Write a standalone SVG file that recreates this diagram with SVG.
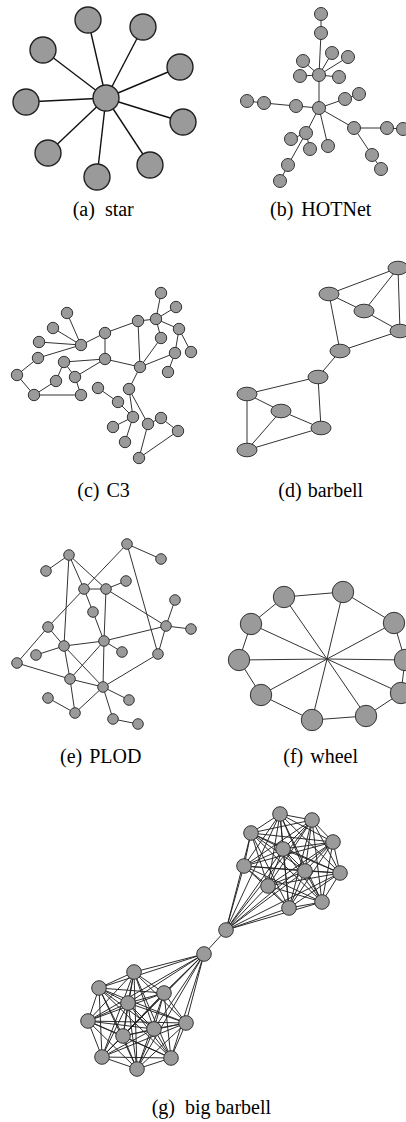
<svg xmlns="http://www.w3.org/2000/svg" width="406" height="1122" viewBox="0 0 406 1122">
<style>
.e{stroke:#333;stroke-width:1;fill:none}
.es{stroke:#111;stroke-width:1.4;fill:none}
.ek{stroke:#222;stroke-width:0.95;fill:none}
circle,ellipse{fill:#9a9a9a;stroke:#333;stroke-width:1}
.sn circle{stroke:#222;stroke-width:1.4}
text{font-family:"Liberation Serif","Times New Roman",serif;font-size:20px;fill:#000}
</style>
<rect width="406" height="1122" fill="#fff"/>

<!-- (a) star -->
<g id="star-edges" class="es">
<line x1="106" y1="98" x2="88" y2="20"/><line x1="106" y1="98" x2="143" y2="27"/><line x1="106" y1="98" x2="43" y2="50"/><line x1="106" y1="98" x2="180" y2="67"/><line x1="106" y1="98" x2="26" y2="102"/><line x1="106" y1="98" x2="183" y2="122"/><line x1="106" y1="98" x2="48" y2="153"/><line x1="106" y1="98" x2="97" y2="177"/><line x1="106" y1="98" x2="150" y2="165"/>
</g>
<g class="sn">
<g id="s0"><circle cx="106" cy="98" r="13"/></g>
<g id="s1"><circle cx="88" cy="20" r="13"/></g>
<g id="s2"><circle cx="143" cy="27" r="13"/></g>
<g id="s3"><circle cx="43" cy="50" r="13"/></g>
<g id="s4"><circle cx="180" cy="67" r="13"/></g>
<g id="s5"><circle cx="26" cy="102" r="13"/></g>
<g id="s6"><circle cx="183" cy="122" r="13"/></g>
<g id="s7"><circle cx="48" cy="153" r="13"/></g>
<g id="s8"><circle cx="97" cy="177" r="13"/></g>
<g id="s9"><circle cx="150" cy="165" r="13"/></g>
</g>
<text x="72.7" y="216">(a) <tspan dx="5">star</tspan></text>

<!-- (b) HOTNet -->
<g id="hot-edges" class="e">
<line x1="321" y1="14" x2="321" y2="33"/><line x1="321" y1="33" x2="319" y2="75"/><line x1="319" y1="75" x2="332" y2="53"/><line x1="319" y1="75" x2="348" y2="57"/><line x1="319" y1="75" x2="303" y2="61"/><line x1="319" y1="75" x2="300" y2="76"/><line x1="319" y1="75" x2="339" y2="77"/><line x1="319" y1="75" x2="319" y2="108"/><line x1="319" y1="108" x2="296" y2="106"/><line x1="296" y1="106" x2="264" y2="103"/><line x1="264" y1="103" x2="247" y2="101"/><line x1="319" y1="108" x2="345" y2="99"/><line x1="345" y1="99" x2="359" y2="94"/><line x1="319" y1="108" x2="354" y2="128"/><line x1="354" y1="128" x2="387" y2="128"/><line x1="387" y1="128" x2="403" y2="129"/><line x1="354" y1="128" x2="372" y2="155"/><line x1="372" y1="155" x2="381" y2="169"/><line x1="319" y1="108" x2="306" y2="133"/><line x1="306" y1="133" x2="291" y2="139"/><line x1="306" y1="133" x2="310" y2="149"/><line x1="306" y1="133" x2="288" y2="165"/><line x1="288" y1="165" x2="280" y2="181"/><line x1="319" y1="108" x2="328" y2="146"/>
</g>
<g id="hA"><circle cx="321" cy="14" r="6.5"/></g>
<g id="hB"><circle cx="321" cy="33" r="6.5"/></g>
<g id="hC"><circle cx="319" cy="75" r="6.5"/></g>
<g id="hD"><circle cx="332" cy="53" r="6.5"/></g>
<g id="hE"><circle cx="348" cy="57" r="6.5"/></g>
<g id="hF"><circle cx="303" cy="61" r="6.5"/></g>
<g id="hG"><circle cx="300" cy="76" r="6.5"/></g>
<g id="hH"><circle cx="339" cy="77" r="6.5"/></g>
<g id="hI"><circle cx="319" cy="108" r="6.5"/></g>
<g id="hJ"><circle cx="296" cy="106" r="6.5"/></g>
<g id="hK"><circle cx="264" cy="103" r="6.5"/></g>
<g id="hL"><circle cx="247" cy="101" r="6.5"/></g>
<g id="hM"><circle cx="345" cy="99" r="6.5"/></g>
<g id="hN"><circle cx="359" cy="94" r="6.5"/></g>
<g id="hO"><circle cx="354" cy="128" r="6.5"/></g>
<g id="hP"><circle cx="387" cy="128" r="6.5"/></g>
<g id="hQ"><circle cx="403" cy="129" r="6.5"/></g>
<g id="hR"><circle cx="372" cy="155" r="6.5"/></g>
<g id="hS"><circle cx="381" cy="169" r="6.5"/></g>
<g id="hT"><circle cx="306" cy="133" r="6.5"/></g>
<g id="hU"><circle cx="291" cy="139" r="6.5"/></g>
<g id="hV"><circle cx="310" cy="149" r="6.5"/></g>
<g id="hW"><circle cx="328" cy="146" r="6.5"/></g>
<g id="hX"><circle cx="288" cy="165" r="6.5"/></g>
<g id="hY"><circle cx="280" cy="181" r="6.5"/></g>
<text x="270" y="216">(b) <tspan dx="3">HOTNet</tspan></text>

<!-- (c) C3 -->
<g id="c3-edges" class="e">
<line x1="161" y1="293" x2="156" y2="319"/><line x1="176" y1="307" x2="156" y2="319"/><line x1="156" y1="319" x2="138" y2="321"/><line x1="156" y1="319" x2="179" y2="329"/><line x1="156" y1="319" x2="161" y2="338"/><line x1="138" y1="321" x2="105" y2="333"/><line x1="138" y1="321" x2="140" y2="367"/><line x1="179" y1="329" x2="175" y2="353"/><line x1="179" y1="329" x2="191" y2="352"/><line x1="161" y1="338" x2="140" y2="367"/><line x1="175" y1="353" x2="140" y2="367"/><line x1="175" y1="353" x2="168" y2="372"/><line x1="105" y1="333" x2="105" y2="359"/><line x1="105" y1="333" x2="81" y2="345"/><line x1="67" y1="313" x2="81" y2="345"/><line x1="53" y1="328" x2="81" y2="345"/><line x1="39" y1="342" x2="81" y2="345"/><line x1="38" y1="358" x2="81" y2="345"/><line x1="38" y1="358" x2="17" y2="375"/><line x1="17" y1="375" x2="34" y2="395"/><line x1="34" y1="395" x2="56" y2="381"/><line x1="56" y1="381" x2="64" y2="362"/><line x1="64" y1="362" x2="105" y2="359"/><line x1="64" y1="362" x2="75" y2="377"/><line x1="75" y1="377" x2="105" y2="359"/><line x1="75" y1="377" x2="81" y2="395"/><line x1="34" y1="395" x2="81" y2="395"/><line x1="105" y1="359" x2="140" y2="367"/><line x1="140" y1="367" x2="129" y2="389"/><line x1="98" y1="388" x2="118" y2="402"/><line x1="118" y1="402" x2="133" y2="417"/><line x1="129" y1="389" x2="133" y2="417"/><line x1="129" y1="389" x2="148" y2="424"/><line x1="133" y1="417" x2="113" y2="427"/><line x1="133" y1="417" x2="125" y2="442"/><line x1="148" y1="424" x2="139" y2="458"/><line x1="161" y1="418" x2="148" y2="424"/><line x1="161" y1="418" x2="178" y2="431"/><line x1="178" y1="431" x2="139" y2="458"/>
</g>
<g id="c1"><circle cx="161" cy="293" r="5.7"/></g>
<g id="c2"><circle cx="176" cy="307" r="5.7"/></g>
<g id="c3"><circle cx="156" cy="319" r="5.7"/></g>
<g id="c4"><circle cx="138" cy="321" r="5.7"/></g>
<g id="c5"><circle cx="179" cy="329" r="5.7"/></g>
<g id="c6"><circle cx="161" cy="338" r="5.7"/></g>
<g id="c7"><circle cx="67" cy="313" r="5.7"/></g>
<g id="c8"><circle cx="53" cy="328" r="5.7"/></g>
<g id="c9"><circle cx="105" cy="333" r="5.7"/></g>
<g id="c10"><circle cx="39" cy="342" r="5.7"/></g>
<g id="c11"><circle cx="81" cy="345" r="5.7"/></g>
<g id="c12"><circle cx="175" cy="353" r="5.7"/></g>
<g id="c13"><circle cx="191" cy="352" r="5.7"/></g>
<g id="c14"><circle cx="38" cy="358" r="5.7"/></g>
<g id="c15"><circle cx="64" cy="362" r="5.7"/></g>
<g id="c16"><circle cx="105" cy="359" r="5.7"/></g>
<g id="c17"><circle cx="140" cy="367" r="5.7"/></g>
<g id="c18"><circle cx="168" cy="372" r="5.7"/></g>
<g id="c19"><circle cx="17" cy="375" r="5.7"/></g>
<g id="c20"><circle cx="75" cy="377" r="5.7"/></g>
<g id="c21"><circle cx="56" cy="381" r="5.7"/></g>
<g id="c22"><circle cx="98" cy="388" r="5.7"/></g>
<g id="c23"><circle cx="129" cy="389" r="5.7"/></g>
<g id="c24"><circle cx="34" cy="395" r="5.7"/></g>
<g id="c25"><circle cx="81" cy="395" r="5.7"/></g>
<g id="c26"><circle cx="118" cy="402" r="5.7"/></g>
<g id="c27"><circle cx="133" cy="417" r="5.7"/></g>
<g id="c28"><circle cx="161" cy="418" r="5.7"/></g>
<g id="c29"><circle cx="148" cy="424" r="5.7"/></g>
<g id="c30"><circle cx="113" cy="427" r="5.7"/></g>
<g id="c31"><circle cx="178" cy="431" r="5.7"/></g>
<g id="c32"><circle cx="125" cy="442" r="5.7"/></g>
<g id="c33"><circle cx="139" cy="458" r="5.7"/></g>
<text x="77.3" y="497">(c) <tspan dx="2">C3</tspan></text>

<!-- (d) barbell -->
<g id="barbell-edges" class="e">
<line x1="398" y1="268" x2="329" y2="294"/><line x1="398" y1="268" x2="364" y2="311"/><line x1="398" y1="268" x2="400" y2="331"/><line x1="329" y1="294" x2="364" y2="311"/><line x1="364" y1="311" x2="400" y2="331"/><line x1="329" y1="294" x2="340" y2="351"/><line x1="400" y1="331" x2="340" y2="351"/><line x1="340" y1="351" x2="318" y2="377"/><line x1="318" y1="377" x2="247" y2="394"/><line x1="318" y1="377" x2="321" y2="428"/><line x1="247" y1="394" x2="281" y2="411"/><line x1="247" y1="394" x2="247" y2="450"/><line x1="281" y1="411" x2="321" y2="428"/><line x1="281" y1="411" x2="247" y2="450"/><line x1="321" y1="428" x2="247" y2="450"/>
</g>
<g id="ba"><ellipse cx="398" cy="268" rx="10" ry="6.8"/></g>
<g id="bb"><ellipse cx="329" cy="294" rx="10" ry="6.8"/></g>
<g id="bc"><ellipse cx="364" cy="311" rx="10" ry="6.8"/></g>
<g id="bd"><ellipse cx="400" cy="331" rx="10" ry="6.8"/></g>
<g id="be"><ellipse cx="340" cy="351" rx="10" ry="6.8"/></g>
<g id="bf"><ellipse cx="318" cy="377" rx="10" ry="6.8"/></g>
<g id="bg"><ellipse cx="247" cy="394" rx="10" ry="6.8"/></g>
<g id="bh"><ellipse cx="281" cy="411" rx="10" ry="6.8"/></g>
<g id="bi"><ellipse cx="321" cy="428" rx="10" ry="6.8"/></g>
<g id="bj"><ellipse cx="247" cy="450" rx="10" ry="6.8"/></g>
<text x="278.3" y="497">(d) <tspan dx="1">barbell</tspan></text>

<!-- (e) PLOD -->
<g id="plod-edges" class="e">
<line x1="69" y1="555" x2="46" y2="571"/><line x1="69" y1="555" x2="84" y2="589"/><line x1="69" y1="555" x2="64" y2="646"/><line x1="69" y1="555" x2="106" y2="589"/><line x1="127" y1="544" x2="84" y2="589"/><line x1="84" y1="589" x2="48" y2="627"/><line x1="127" y1="544" x2="161" y2="559"/><line x1="127" y1="544" x2="158" y2="654"/><line x1="84" y1="589" x2="106" y2="589"/><line x1="106" y1="589" x2="126" y2="581"/><line x1="106" y1="589" x2="104" y2="641"/><line x1="84" y1="589" x2="93" y2="612"/><line x1="93" y1="612" x2="104" y2="641"/><line x1="106" y1="589" x2="166" y2="626"/><line x1="175" y1="600" x2="166" y2="626"/><line x1="166" y1="626" x2="191" y2="629"/><line x1="166" y1="626" x2="158" y2="654"/><line x1="104" y1="641" x2="166" y2="626"/><line x1="64" y1="646" x2="104" y2="641"/><line x1="104" y1="641" x2="122" y2="652"/><line x1="64" y1="646" x2="36" y2="655"/><line x1="48" y1="627" x2="64" y2="646"/><line x1="48" y1="627" x2="17" y2="663"/><line x1="17" y1="663" x2="70" y2="679"/><line x1="70" y1="679" x2="103" y2="687"/><line x1="64" y1="646" x2="70" y2="679"/><line x1="64" y1="646" x2="103" y2="687"/><line x1="104" y1="641" x2="70" y2="679"/><line x1="104" y1="641" x2="103" y2="687"/><line x1="158" y1="654" x2="103" y2="687"/><line x1="70" y1="679" x2="75" y2="713"/><line x1="103" y1="687" x2="75" y2="713"/><line x1="103" y1="687" x2="129" y2="700"/><line x1="103" y1="687" x2="113" y2="719"/><line x1="113" y1="719" x2="138" y2="724"/><line x1="48" y1="698" x2="75" y2="713"/>
</g>
<g id="p1"><circle cx="127" cy="544" r="5.3"/></g>
<g id="p2"><circle cx="69" cy="555" r="5.3"/></g>
<g id="p3"><circle cx="161" cy="559" r="5.3"/></g>
<g id="p4"><circle cx="46" cy="571" r="5.3"/></g>
<g id="p5"><circle cx="126" cy="581" r="5.3"/></g>
<g id="p6"><circle cx="84" cy="589" r="5.3"/></g>
<g id="p7"><circle cx="106" cy="589" r="5.3"/></g>
<g id="p8"><circle cx="175" cy="600" r="5.3"/></g>
<g id="p9"><circle cx="93" cy="612" r="5.3"/></g>
<g id="p10"><circle cx="48" cy="627" r="5.3"/></g>
<g id="p11"><circle cx="166" cy="626" r="5.3"/></g>
<g id="p12"><circle cx="191" cy="629" r="5.3"/></g>
<g id="p13"><circle cx="104" cy="641" r="5.3"/></g>
<g id="p14"><circle cx="64" cy="646" r="5.3"/></g>
<g id="p15"><circle cx="122" cy="652" r="5.3"/></g>
<g id="p16"><circle cx="36" cy="655" r="5.3"/></g>
<g id="p17"><circle cx="158" cy="654" r="5.3"/></g>
<g id="p18"><circle cx="17" cy="663" r="5.3"/></g>
<g id="p19"><circle cx="70" cy="679" r="5.3"/></g>
<g id="p20"><circle cx="103" cy="687" r="5.3"/></g>
<g id="p21"><circle cx="48" cy="698" r="5.3"/></g>
<g id="p22"><circle cx="129" cy="700" r="5.3"/></g>
<g id="p23"><circle cx="75" cy="713" r="5.3"/></g>
<g id="p24"><circle cx="113" cy="719" r="5.3"/></g>
<g id="p25"><circle cx="138" cy="724" r="5.3"/></g>
<text x="60" y="763">(e) <tspan dx="2">PLOD</tspan></text>

<!-- (f) wheel -->
<g id="wheel-edges" class="e">
<line x1="327" y1="659" x2="284" y2="597"/><line x1="327" y1="659" x2="343" y2="592"/><line x1="327" y1="659" x2="394" y2="623"/><line x1="327" y1="659" x2="251" y2="624"/><line x1="327" y1="659" x2="239" y2="660"/><line x1="327" y1="659" x2="405" y2="660"/><line x1="327" y1="659" x2="261" y2="695"/><line x1="327" y1="659" x2="401" y2="693"/><line x1="327" y1="659" x2="312" y2="720"/><line x1="327" y1="659" x2="366" y2="716"/>
<polygon points="284,597 343,592 394,623 405,660 401,693 366,716 312,720 261,695 239,660 251,624"/>
</g>
<g id="w1"><circle cx="284" cy="597" r="10.7"/></g>
<g id="w2"><circle cx="343" cy="592" r="10.7"/></g>
<g id="w3"><circle cx="394" cy="623" r="10.7"/></g>
<g id="w4"><circle cx="251" cy="624" r="10.7"/></g>
<g id="w5"><circle cx="239" cy="660" r="10.7"/></g>
<g id="w6"><circle cx="405" cy="660" r="10.7"/></g>
<g id="w7"><circle cx="261" cy="695" r="10.7"/></g>
<g id="w8"><circle cx="401" cy="693" r="10.7"/></g>
<g id="w9"><circle cx="312" cy="720" r="10.7"/></g>
<g id="w10"><circle cx="366" cy="716" r="10.7"/></g>
<text x="283.3" y="763">(f) <tspan dx="2">wheel</tspan></text>

<!-- (g) big barbell -->
<g id="bigbarbell-edges" class="ek">
<path d="M226 930L280 814M226 930L312 820M226 930L251 833M226 930L333 842M226 930L283 849M226 930L244 866M226 930L305 871M226 930L340 873M226 930L268 886M226 930L322 902M226 930L289 908M280 814L312 820M280 814L251 833M280 814L333 842M280 814L283 849M280 814L244 866M280 814L305 871M280 814L340 873M280 814L268 886M280 814L322 902M280 814L289 908M312 820L251 833M312 820L333 842M312 820L283 849M312 820L244 866M312 820L305 871M312 820L340 873M312 820L268 886M312 820L322 902M312 820L289 908M251 833L333 842M251 833L283 849M251 833L244 866M251 833L305 871M251 833L340 873M251 833L268 886M251 833L322 902M251 833L289 908M333 842L283 849M333 842L244 866M333 842L305 871M333 842L340 873M333 842L268 886M333 842L322 902M333 842L289 908M283 849L244 866M283 849L305 871M283 849L340 873M283 849L268 886M283 849L322 902M283 849L289 908M244 866L305 871M244 866L340 873M244 866L268 886M244 866L322 902M244 866L289 908M305 871L340 873M305 871L268 886M305 871L322 902M305 871L289 908M340 873L268 886M340 873L322 902M340 873L289 908M268 886L322 902M268 886L289 908M322 902L289 908"/>
<path d="M204 954L134 972M204 954L99 988M204 954L164 993M204 954L128 1003M204 954L88 1021M204 954L186 1023M204 954L154 1029M204 954L123 1036M204 954L102 1057M204 954L171 1058M204 954L137 1069M134 972L99 988M134 972L164 993M134 972L128 1003M134 972L88 1021M134 972L186 1023M134 972L154 1029M134 972L123 1036M134 972L102 1057M134 972L171 1058M134 972L137 1069M99 988L164 993M99 988L128 1003M99 988L88 1021M99 988L186 1023M99 988L154 1029M99 988L123 1036M99 988L102 1057M99 988L171 1058M99 988L137 1069M164 993L128 1003M164 993L88 1021M164 993L186 1023M164 993L154 1029M164 993L123 1036M164 993L102 1057M164 993L171 1058M164 993L137 1069M128 1003L88 1021M128 1003L186 1023M128 1003L154 1029M128 1003L123 1036M128 1003L102 1057M128 1003L171 1058M128 1003L137 1069M88 1021L186 1023M88 1021L154 1029M88 1021L123 1036M88 1021L102 1057M88 1021L171 1058M88 1021L137 1069M186 1023L154 1029M186 1023L123 1036M186 1023L102 1057M186 1023L171 1058M186 1023L137 1069M154 1029L123 1036M154 1029L102 1057M154 1029L171 1058M154 1029L137 1069M123 1036L102 1057M123 1036L171 1058M123 1036L137 1069M102 1057L171 1058M102 1057L137 1069M171 1058L137 1069"/>
<path d="M226 930L204 954"/>
</g>
<g id="t0"><circle cx="226" cy="930" r="7.3"/></g>
<g id="t1"><circle cx="280" cy="814" r="7.3"/></g>
<g id="t2"><circle cx="312" cy="820" r="7.3"/></g>
<g id="t3"><circle cx="251" cy="833" r="7.3"/></g>
<g id="t4"><circle cx="333" cy="842" r="7.3"/></g>
<g id="t5"><circle cx="283" cy="849" r="7.3"/></g>
<g id="t6"><circle cx="244" cy="866" r="7.3"/></g>
<g id="t7"><circle cx="305" cy="871" r="7.3"/></g>
<g id="t8"><circle cx="340" cy="873" r="7.3"/></g>
<g id="t9"><circle cx="268" cy="886" r="7.3"/></g>
<g id="t10"><circle cx="322" cy="902" r="7.3"/></g>
<g id="t11"><circle cx="289" cy="908" r="7.3"/></g>
<g id="q0"><circle cx="204" cy="954" r="7.3"/></g>
<g id="q1"><circle cx="134" cy="972" r="7.3"/></g>
<g id="q2"><circle cx="99" cy="988" r="7.3"/></g>
<g id="q3"><circle cx="164" cy="993" r="7.3"/></g>
<g id="q4"><circle cx="128" cy="1003" r="7.3"/></g>
<g id="q5"><circle cx="88" cy="1021" r="7.3"/></g>
<g id="q6"><circle cx="186" cy="1023" r="7.3"/></g>
<g id="q7"><circle cx="154" cy="1029" r="7.3"/></g>
<g id="q8"><circle cx="123" cy="1036" r="7.3"/></g>
<g id="q9"><circle cx="102" cy="1057" r="7.3"/></g>
<g id="q10"><circle cx="171" cy="1058" r="7.3"/></g>
<g id="q11"><circle cx="137" cy="1069" r="7.3"/></g>
<text x="151.7" y="1114">(g) <tspan dx="5">big barbell</tspan></text>
</svg>
